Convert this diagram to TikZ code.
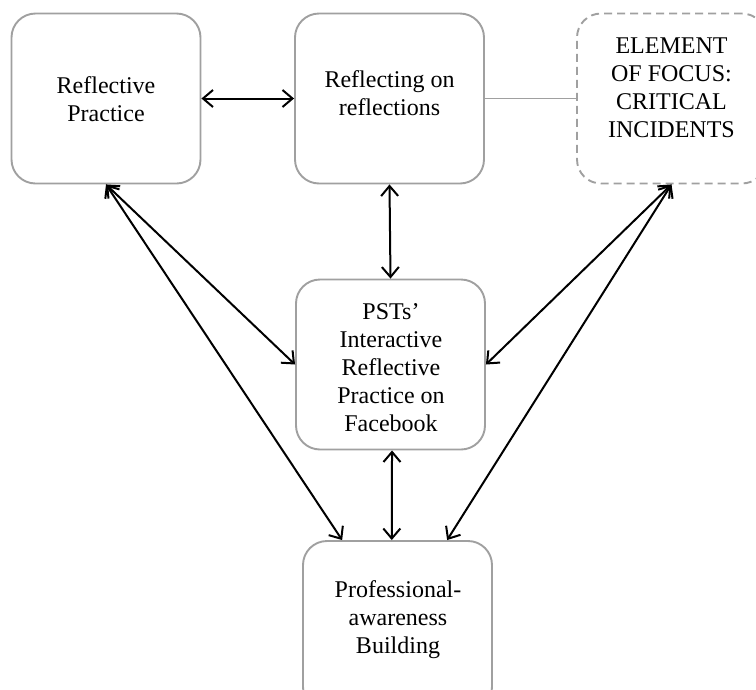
\documentclass[tikz,border=0pt]{standalone}
\usepackage{fontspec}
\setmainfont{Liberation Serif}
\usetikzlibrary{arrows.meta,calc}
\begin{document}
\begin{tikzpicture}[x=1pt,y=-1pt,
  box/.style={draw=boxgray, line width=1.9pt, rounded corners=24pt, minimum width=189pt, minimum height=170pt, inner sep=0pt},
  dashbox/.style={box, dash pattern=on 8pt off 5pt},
  txt/.style={align=center, font=\fontsize{24}{28}\selectfont, text=black, inner sep=0pt},
  link/.style={line width=2pt, black, {Straight Barb[length=10pt,width=17pt,line width=2pt]}-{Straight Barb[length=10pt,width=17pt,line width=2pt]}},
  plain/.style={draw=boxgray, line width=1.9pt}
]
\definecolor{boxgray}{HTML}{A0A0A0}
\useasboundingbox (0,0) rectangle (756,689);
\clip (0,0) rectangle (756,689);
\fill[white] (0,0) rectangle (756,689);

\node[box] (A) at (106,98.5) {};
\node[txt] (At) at (106,99) {Reflective\\Practice};
\node[box] (B) at (389.5,98.5) {};
\node[txt] (Bt) at (389.5,93) {Reflecting on\\reflections};
\node[dashbox] (E) at (671.5,98.5) {};
\node[txt] (Et) at (671.5,88) {ELEMENT\\OF FOCUS:\\CRITICAL\\INCIDENTS};
\node[box] (C) at (390.5,364.5) {};
\node[txt] (Ct) at (391,368) {PSTs'\\Interactive\\Reflective\\Practice on\\Facebook};
\node[box] (D) at (397.5,626) {};
\node[txt] (Dt) at (398,620) {Professional-\\awareness\\Building};

\coordinate (d1) at ($(D.north west)!0.21!(D.north east)$);
\coordinate (d2) at ($(D.north west)!0.47!(D.north east)$);
\coordinate (d3) at ($(D.north west)!0.76!(D.north east)$);
\coordinate (c2) at ($(C.south west)!0.508!(C.south east)$);

\draw[plain] (B.east) -- (E.west);
\draw[link] (A.east) -- (B.west);
\draw[link] (B.south) -- (C.north);
\draw[link] (c2) -- (d2);
\draw[link] (A.south) -- (C.west);
\draw[link] (A.south) -- (d1);
\draw[link] (E.south) -- (C.east);
\draw[link] (E.south) -- (d3);
\end{tikzpicture}
\end{document}
